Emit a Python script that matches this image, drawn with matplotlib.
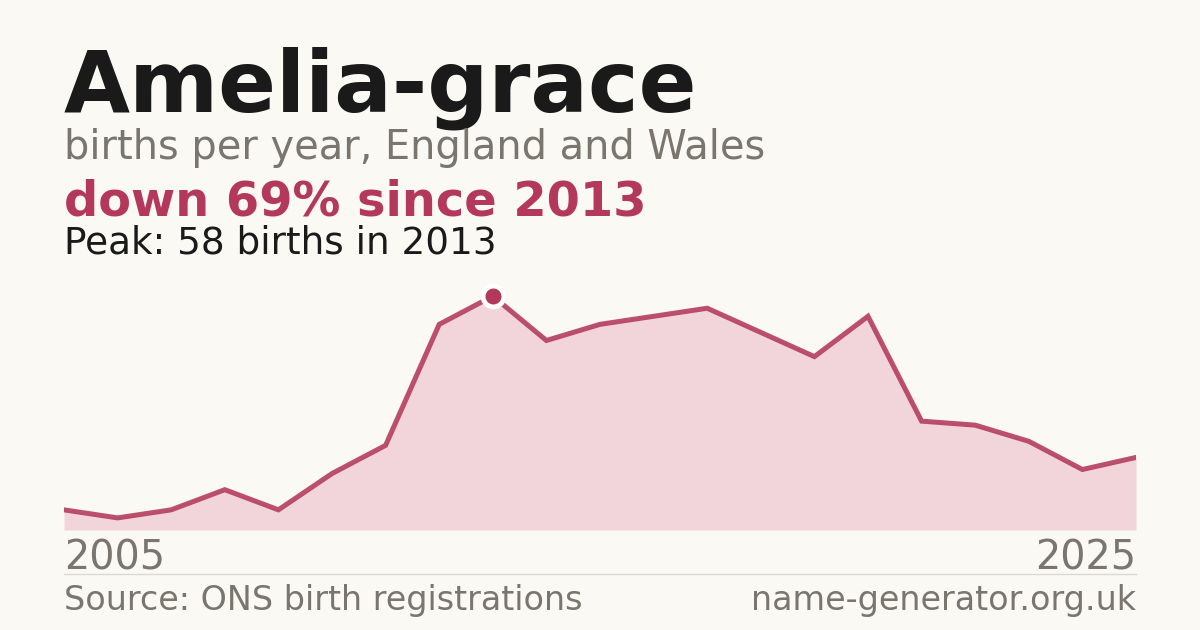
import matplotlib
matplotlib.use("Agg")
import matplotlib.pyplot as plt
from matplotlib.lines import Line2D

plt.rcParams['font.family'] = ['DejaVu Sans']

# Данные: рождения по годам
years = list(range(2005, 2026))
births = [5, 3, 5, 10, 5, 14, 21, 51, 58, 47, 51, 53, 55, 49, 43, 53, 27, 26, 22, 15, 18]

name = "Amelia-grace"
subtitle = "births per year, England and Wales"
headline = "down 69% since 2013"
peak_note = "Peak: 58 births in 2013"
source = "Source: ONS birth registrations"
site = "name-generator.org.uk"

BG = "#faf9f4"
ACCENT = "#b3385a"
FILL = "#f2d5db"
GREY = "#7a756d"
DARK = "#1a1a1a"

W, H = 1200, 630
fig = plt.figure(figsize=(W / 100, H / 100), dpi=100, facecolor=BG)


def fy(px):
    return 1 - px / H


# Область графика
ax = fig.add_axes([64 / W, fy(530), (1136 - 64) / W, 250 / H])
ax.set_facecolor(BG)
ax.fill_between(years, births, 0, color=FILL, linewidth=0)
ax.plot(years, births, color=ACCENT, linewidth=3.6, alpha=0.88, solid_joinstyle="miter")

peak_i = births.index(max(births))
ax.plot(years[peak_i], births[peak_i], "o", markersize=15, color=ACCENT,
        markeredgecolor="white", markeredgewidth=3.5, zorder=5)

ax.set_xlim(years[0], years[-1])
ax.set_ylim(0, 62)
ax.axis("off")

# Тексты
fig.text(64 / W, fy(112), name, fontsize=61.5, fontweight="bold", color=DARK, va="baseline")
fig.text(64 / W, fy(159), subtitle, fontsize=28.7, color=GREY, va="baseline")
fig.text(64 / W, fy(215), headline, fontsize=34.5, fontweight="bold", color=ACCENT, va="baseline")
fig.text(64 / W, fy(254), peak_note, fontsize=26.9, color=DARK, va="baseline")

fig.text(64 / W, fy(569), str(years[0]), fontsize=28.6, color=GREY, va="baseline")
fig.text(1136 / W, fy(569), str(years[-1]), fontsize=28.6, color=GREY, va="baseline", ha="right")

fig.add_artist(Line2D([64 / W, 1136 / W], [fy(574), fy(574)], color="#dcd9d2", linewidth=1))

fig.text(64 / W, fy(610), source, fontsize=24, color=GREY, va="baseline")
fig.text(1136 / W, fy(610), site, fontsize=24, color=GREY, va="baseline", ha="right")

fig.savefig("out.png", dpi=100, facecolor=BG)
